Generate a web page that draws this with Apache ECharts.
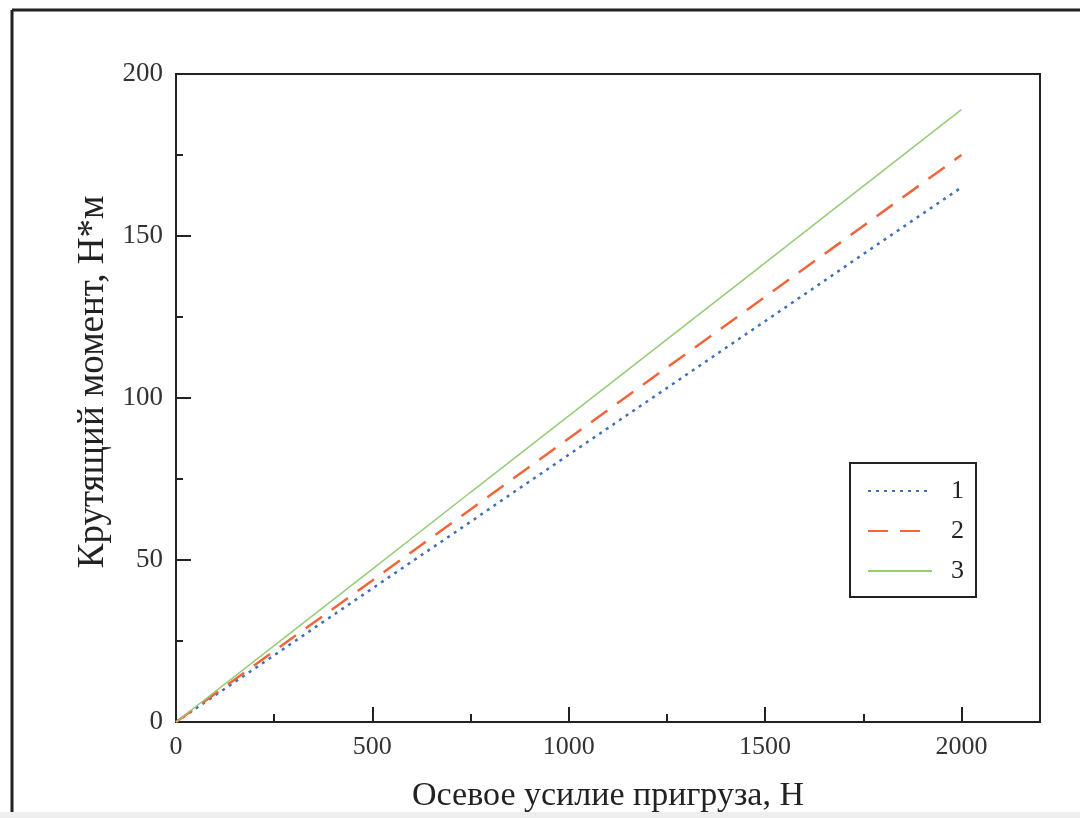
<!DOCTYPE html>
<html><head><meta charset="utf-8">
<script src="https://cdn.jsdelivr.net/npm/echarts@6/dist/echarts.min.js"></script>
<style>html,body{margin:0;padding:0;background:#fff}#c{width:1080px;height:818px}</style>
</head><body><div id="c"></div>
<script>
const xValues = [0, 250, 500, 750, 1000, 1250, 1500, 1750, 2000];
const series1 = [0, 20.6, 41.2, 61.8, 82.5, 103.1, 123.7, 144.4, 165];
const series2 = [0, 21.9, 43.7, 65.6, 87.5, 109.4, 131.2, 153.1, 175];
const series3 = [0, 23.6, 47.2, 70.9, 94.5, 118.1, 141.7, 165.4, 189];
const seriesNames = ['1', '2', '3'];
const xTitle = 'Осевое усилие пригруза, Н';
const yTitle = 'Крутящий момент, Н*м';

const font = 'Liberation Serif';
const chart = echarts.init(document.getElementById('c'));
const pairs = arr => xValues.map((x, i) => [x, arr[i]]);
chart.setOption({
  animation: false,
  backgroundColor: '#fff',
  grid: { left: 176, top: 74, right: 40, bottom: 94, show: true, borderColor: '#222', borderWidth: 2 },
  xAxis: {
    type: 'value', min: 0, max: 2200, interval: 500,
    name: xTitle, nameLocation: 'middle', nameGap: 57,
    nameTextStyle: { fontFamily: font, fontSize: 34, color: '#222' },
    axisLine: { lineStyle: { color: '#222', width: 2 } },
    axisTick: { inside: true, length: 15, lineStyle: { color: '#222', width: 2 } },
    minorTick: { show: true, splitNumber: 2, length: 8, lineStyle: { color: '#222', width: 2 } },
    axisLabel: { fontFamily: font, fontSize: 26, color: '#333', margin: 12,
      formatter: v => v > 2000 ? '' : v },
    splitLine: { show: false }
  },
  yAxis: {
    type: 'value', min: 0, max: 200, interval: 50,
    name: yTitle, nameLocation: 'middle', nameGap: 64,
    nameTextStyle: { fontFamily: font, fontSize: 37, color: '#222', padding: [0, 0, 0, 32] },
    axisLine: { lineStyle: { color: '#222', width: 2 } },
    axisTick: { inside: true, length: 15, lineStyle: { color: '#222', width: 2 } },
    minorTick: { show: true, splitNumber: 2, length: 7, lineStyle: { color: '#222', width: 2 } },
    axisLabel: { fontFamily: font, fontSize: 27, color: '#333', margin: 13 },
    splitLine: { show: false }
  },
  legend: {
    orient: 'vertical', left: 850, top: 463,
    data: seriesNames,
    itemWidth: 64, itemHeight: 14, itemGap: 14,
    padding: [15, 12, 13, 17],
    borderColor: '#222', borderWidth: 2,
    itemStyle: { opacity: 0 },
    textStyle: { fontFamily: font, fontSize: 26, lineHeight: 26, color: '#222', padding: [0, 0, 0, 14] }
  },
  series: [
    { name: seriesNames[0], type: 'line', data: pairs(series1), symbol: 'none',
      lineStyle: { color: '#3f6fb8', width: 2.5, type: [3, 5] }, itemStyle: { color: '#3f6fb8' } },
    { name: seriesNames[1], type: 'line', data: pairs(series2), symbol: 'none',
      lineStyle: { color: '#f2643a', width: 2.5, type: [20, 12] }, itemStyle: { color: '#f2643a' } },
    { name: seriesNames[2], type: 'line', data: pairs(series3), symbol: 'none',
      lineStyle: { color: '#96cc78', width: 1.5 }, itemStyle: { color: '#96cc78' } }
  ],
  graphic: [
    { type: 'line', shape: { x1: 12, y1: 10, x2: 1080, y2: 10 }, style: { stroke: '#222', lineWidth: 3 } },
    { type: 'line', shape: { x1: 12, y1: 10, x2: 12, y2: 818 }, style: { stroke: '#222', lineWidth: 3 } },
    { type: 'rect', shape: { x: 0, y: 812, width: 1080, height: 6 }, style: { fill: '#eeeeee' } }
  ]
});
</script></body></html>
